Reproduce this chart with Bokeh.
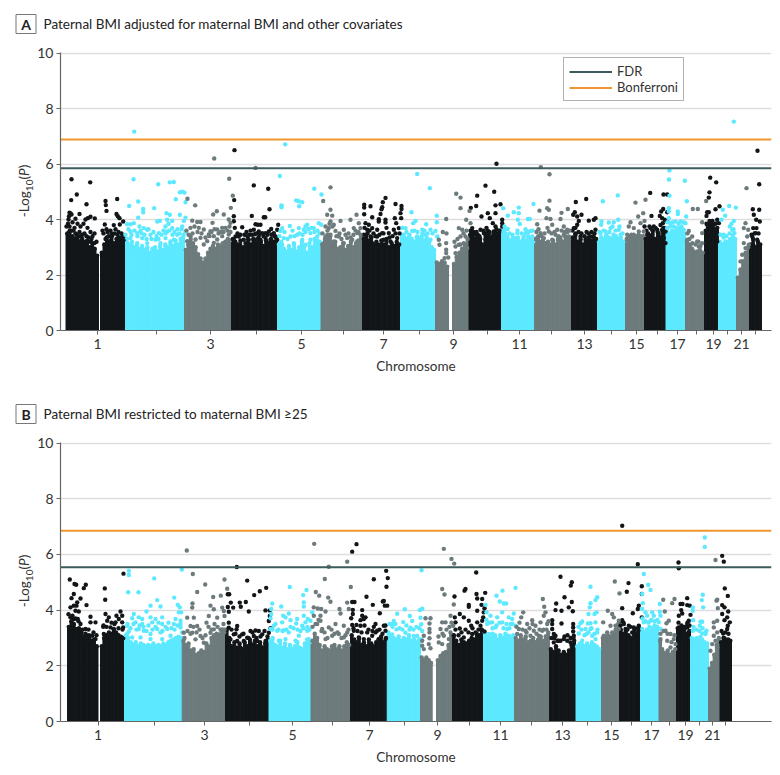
from bokeh.plotting import figure
from bokeh.layouts import column, row
from bokeh.core.properties import value
from bokeh.models import Range1d, FixedTicker, Legend, LegendItem, Div
from bokeh.embed import file_html
from bokeh.resources import INLINE

FONT = "Lato"
BLACK, CYAN, GREY = "#121618", "#5CE9FF", "#6D7B7D"
FDR_COLOR, BONF_COLOR = "#3E5B5B", "#F0962F"
GROUP_COLORS = [BLACK, CYAN, GREY]

# tick positions along the genome axis and their labels
tick_labels = ["1", "", "3", "", "5", "", "7", "", "9", "", "11", "", "13", "", "15", "", "17", "", "19", "", "21", ""]
A_ticks = [97, 156, 210, 256, 301, 343, 383, 419, 453, 487, 519, 551, 584, 611, 636, 657, 677, 696, 713, 727, 741, 755]
B_ticks = [97.5, 154, 204, 249, 292, 332, 369, 404, 437, 469, 500, 531, 562, 587, 611, 631, 651, 669, 685, 699, 712, 725]

A_FDR, A_BONF = 5.85, 6.88
B_FDR, B_BONF = 5.54, 6.85

# chromosome blocks: extent, colour group, near-solid top profile
A_left = [65.5, 100, 125, 184, 231, 277, 320.5, 362, 400, 435, 452, 468.5, 501, 534, 571, 597, 625, 644, 665.5, 685, 704, 718, 736, 749]
A_right = [98, 125, 184, 231, 277, 320.5, 362, 400, 435, 448, 468.5, 501, 534, 571, 597, 624, 644, 665.5, 685, 703.5, 718, 736, 749, 761]
A_group = [0, 0, 1, 2, 0, 1, 2, 0, 1, 2, 2, 0, 1, 2, 0, 1, 2, 0, 1, 2, 0, 1, 2, 0]
A_tops = [
    [3.5,3.6,3.4,3.3,3.45,3.2,3.3,3.1,3.25,3.0,3.15,2.95,2.7],
    [2.8,3.1,3.35,3.2,3.4,3.15,3.3,3.35,3.2,3.3],
    [3.3,3.1,3.2,3.0,3.1,2.95,3.05,2.9,3.0,2.8,2.95,3.0,2.85,3.05,2.9,3.1,3.0,3.15,3.05,3.25,3.1,3.3,3.35],
    [2.9,3.1,3.3,3.15,3.0,2.75,2.6,2.45,2.6,2.8,2.95,3.05,2.95,3.1,3.0,3.15,3.2,3.3,3.25],
    [3.3,3.2,3.1,3.25,3.0,3.15,3.3,3.1,3.3,3.15,3.35,3.2,3.05,3.25,3.15,3.3,3.2,3.35],
    [3.1,3.2,2.95,2.85,3.05,2.9,3.1,2.85,3.0,3.2,3.05,2.8,3.15,3.0,3.3,3.25,3.2],
    [3.1,3.3,3.45,3.4,3.1,3.2,2.95,3.0,3.15,2.9,3.05,3.2,3.0,3.15,3.25,3.35],
    [3.3,3.45,3.25,3.35,3.1,3.2,3.05,3.25,3.1,3.3,3.0,3.15,3.05,3.2,3.1],
    [3.45,3.35,3.3,3.4,3.3,3.2,3.35,3.3,3.4,3.25,3.35,3.2,3.0,2.9],
    [2.45,2.4,2.5,2.45,2.3],
    [2.4,2.65,2.8,2.95,3.1,3.3],
    [3.45,3.55,3.3,3.45,3.3,3.1,3.5,3.6,3.35,3.4,3.55,3.45,3.6],
    [3.6,3.5,3.3,3.25,3.35,3.2,3.35,3.2,3.3,3.25,3.4,3.3,3.2],
    [3.3,3.4,3.2,3.3,3.15,3.2,3.1,3.25,3.1,3.3,3.35,3.2,3.4,3.3,3.35],
    [3.35,3.5,3.2,3.3,3.1,3.2,3.35,3.25,3.4,3.3],
    [3.2,3.35,3.3,3.4,3.35,3.3,3.45,3.4,3.3,3.35,3.2],
    [3.3,3.4,3.45,3.45,3.4,3.45,3.4,3.4],
    [3.3,3.5,3.4,3.6,3.3,3.55,3.35,3.6,3.7],
    [3.7,3.5,3.6,3.55,3.7,3.6,3.65,3.5],
    [3.2,3.1,2.95,2.8,2.85,2.9,2.8],
    [3.6,3.7,3.75,3.7,3.65,3.7],
    [3.2,3.1,3.15,3.2,3.3,3.45,3.3],
    [1.9,2.2,2.5,2.8,3.0],
    [3.1,3.3,3.0,3.2,3.1],
]

B_left = [67, 100, 124, 181.7, 225, 268.5, 310.5, 350, 386.7, 420, 436, 452, 483, 514, 549, 575.5, 601, 619, 640, 658.5, 676, 690, 708, 719.5]
B_right = [97.5, 124, 181.7, 225, 268.5, 310.5, 350, 386.7, 420, 431.7, 452, 482.5, 514, 549, 575, 600, 619, 639.5, 658, 676, 690, 708, 719.5, 731]
B_group = [0, 0, 1, 2, 0, 1, 2, 0, 1, 2, 2, 0, 1, 2, 0, 1, 2, 0, 1, 2, 0, 1, 2, 0]
B_tops = [
    [3.4,3.6,3.5,3.3,3.35,3.2,3.05,2.95,3.1,2.9,2.95,2.7],
    [2.7,3.0,3.1,3.2,3.15,3.3,3.2,3.1,3.05,3.0],
    [3.1,3.0,2.85,2.75,2.85,2.7,2.8,2.75,2.7,2.75,2.7,2.8,2.7,2.75,2.7,2.8,2.75,2.85,2.9,2.95,3.0,3.05,3.0],
    [2.9,2.75,2.8,2.55,2.6,2.4,2.45,2.55,2.5,2.8,2.7,3.0,3.1,3.15,3.1,3.25,3.2],
    [3.3,3.0,2.7,2.85,2.65,2.8,2.6,2.85,2.7,2.95,2.75,2.9,2.7,2.85,2.65,2.8,2.95],
    [2.9,3.0,2.75,2.7,2.9,2.65,2.8,2.6,2.75,2.6,2.7,2.85,2.65,2.6,2.8,2.95,2.85],
    [2.9,3.15,3.0,2.75,2.55,2.7,2.6,2.55,2.7,2.75,2.6,2.7,2.55,2.7,2.85,2.75],
    [3.1,2.95,2.85,3.0,2.75,2.85,2.7,2.95,2.8,2.7,2.85,2.95,3.05,2.85,3.0],
    [3.2,3.1,3.0,2.95,3.05,2.9,3.0,2.95,3.1,2.9,2.95,2.85,2.95],
    [2.3,2.2,2.3,2.2,2.1],
    [2.2,2.35,2.45,2.5,2.75,3.1],
    [3.1,2.9,2.75,2.95,2.85,2.8,2.9,3.0,2.95,3.15,3.1,3.3],
    [3.2,3.05,3.0,3.15,3.1,2.95,3.1,3.0,3.15,2.95,3.0,3.1],
    [3.0,2.9,3.1,2.95,3.05,2.85,2.9,3.0,2.85,2.95,3.05,2.9,3.05,3.2],
    [2.6,2.5,2.7,2.55,2.4,2.5,2.4,2.55,2.75,2.9],
    [2.7,2.8,2.75,2.7,2.8,2.7,2.85,2.75,2.7,2.6],
    [3.0,3.05,3.1,3.05,3.15,3.3,3.5],
    [3.3,3.15,3.25,3.1,3.0,3.2,3.15,3.3],
    [3.3,3.2,3.3,3.4,3.35,3.45,3.4],
    [2.9,2.5,2.45,2.55,2.4,2.5,2.6],
    [3.35,3.3,3.2,3.35,3.15,3.25],
    [3.0,2.95,3.0,2.9,2.95,2.85,2.8],
    [1.9,2.1,2.4,2.75,3.0],
    [2.85,3.0,2.9,2.95,2.9],
]

# individually readable points (genome position, -log10 P), panel A
A_black = [(71,5.45),(89.7,5.34),(76.3,4.9),(70.7,4.7),(86,4.55),(69,4.25),(70,4.22),(68.5,4.12),(71,4.18),(79,4.2),(75,4.03),(87.3,4.05),(90,4.1),(94.3,4.04),(85,4.0),(68,4.0),(67.5,3.85),(69,3.75),(72,3.9),(74,3.7),(77,3.85),(80,3.75),(83,3.85),(87,3.7),(71,3.6),(75,3.5),(79,3.55),(82,3.45),(86,3.4),(90,3.55),(94,3.5),(68,3.5),(72,3.35),(77,3.3),(81,3.25),(85,3.2),(90,3.2),(94,3.15),(70,3.2),(74,3.2),(91,3.3),
 (105,4.67),(105.3,4.52),(106,4.31),(116.7,4.74),(116,4.2),(117.3,4.12),(119,4.05),(122.7,3.93),(104.3,3.82),(113.3,3.8),(119.3,3.82),(106,3.65),(110,3.6),(115,3.65),(118,3.55),(103,3.5),(108,3.4),(112,3.45),(121,3.5),(105,3.3),(116,3.3),(120,3.3),(123,3.25),(110,3.25),
 (234,6.5),(233.7,4.7),(233.3,4.12),(233.3,3.94),(234.3,3.7),(253.3,5.23),(267.7,5.11),(269,4.37),(251.3,4.13),(263.3,4.08),(264.7,4.08),(277.7,3.81),(241.7,3.72),(255,3.83),(257.3,3.81),(260,3.81),(270.7,3.66),(276.7,3.63),(246,3.55),(250,3.6),(253.3,3.63),(249.3,3.45),(254.3,3.47),(258.3,3.57),(261.7,3.51),(265,3.51),(268.3,3.57),(273.3,3.51),(275,3.39),(276.7,3.27),(238.3,3.39),(243.3,3.27),(235,3.39),(233.3,3.27),(248.3,3.27),(260,3.27),(270,3.27),(255,3.27),(265,3.33),
 (385,4.78),(382.3,4.62),(381.7,4.44),(380,4.2),(381,4.37),(395,4.56),(401,4.49),(401,4.38),(363.7,4.53),(363.7,4.43),(370,4.48),(363.7,4.19),(378.3,4.01),(378.3,3.93),(371.7,4.08),(385,3.99),(385,3.89),(394.3,4.05),(400,4.23),(400.7,4.05),(395.7,3.87),(365,3.87),(368.3,3.81),(371.7,3.69),(366.7,3.63),(376.7,3.63),(381.7,3.51),(388.3,3.51),(393.3,3.63),(398.3,3.69),(363.3,3.45),(370,3.39),(376.7,3.39),(383.3,3.27),(390,3.21),(396.7,3.33),(365,3.15),(371.7,3.15),(378.3,3.09),(393.3,3.03),
 (496,6.01),(485,5.22),(493.7,5.0),(476.7,4.86),(470.3,4.42),(475.7,4.49),(495,4.51),(500,4.55),(487.3,4.23),(481,4.11),(495,4.23),(489.3,4.05),(492.3,3.87),(495,3.75),(501.7,3.99),(501.7,3.87),(501.7,3.75),(471.7,3.69),(470.7,3.51),(480,3.63),(475,3.45),(483.3,3.51),(488.3,3.45),(493.3,3.57),(498.3,3.51),(478.3,3.33),(485,3.27),(491.7,3.27),(498.3,3.27),
 (575.3,4.63),(585.7,4.74),(574.3,4.26),(581,4.17),(572.7,4.17),(576.7,4.11),(588.3,3.96),(593.3,3.99),(595,4.05),(578.3,3.95),(576.7,3.81),(573.3,3.69),(595,3.63),(586,3.55),(575,3.45),(580,3.39),(590,3.39),(595,3.27),(585,3.27),(573.3,3.27),(578.3,3.15),(590,3.15),
 (649.7,4.96),(663,4.9),(666.7,4.9),(662.7,4.38),(660.7,4.29),(666.7,4.26),(651,4.13),(659.3,4.13),(661.7,4.05),(664.3,3.99),(662.3,3.87),(666.7,3.93),(644,3.75),(650,3.69),(653.3,3.75),(656.7,3.63),(661.7,3.63),(665,3.57),(646.7,3.45),(651.7,3.45),(658.3,3.39),(663.3,3.33),(646,3.27),(653.3,3.21),(660,3.15),(665,3.15),
 (709.7,5.51),(715.7,5.34),(709,4.98),(708.3,4.79),(706.7,4.26),(708.3,4.26),(706,4.13),(719,4.48),(715,4.37),(710,3.87),(706.7,3.81),(713.3,3.81),(716.7,3.99),(718.3,3.87),(711.7,3.63),(715,3.63),(706.7,3.51),(716.7,3.51),(710,3.39),(713.3,3.33),(708.3,3.15),(716.7,3.21),
 (757,6.48),(758.7,5.27),(752.3,4.37),(758.7,4.35),(753.3,4.17),(755.7,3.99),(759.3,3.93),(752.7,3.69),(756,3.69),(755,3.51),(751.7,3.39),(756.7,3.27),(752.7,3.09)]
A_black_more = [(66,3.75),(69,3.55),(73,3.6),(76,3.45),(80,3.4),(84,3.5),(88,3.35),(92,3.4),(96,3.2),(102,3.6),(107,3.55),(111,3.5),(114,3.5),(117,3.45),(122,3.4),
 (237,3.5),(240,3.45),(244,3.45),(247,3.4),(252,3.45),(256,3.5),(259,3.45),(263,3.4),(267,3.45),(271,3.45),(274,3.4),
 (364,3.7),(367,3.5),(369,3.6),(373,3.5),(375,3.4),(379,3.45),(383,3.5),(386,3.7),(389,3.35),(392,3.4),(395,3.5),(399,3.5),
 (470,3.6),(473,3.55),(476,3.55),(479,3.4),(483,3.6),(486,3.7),(489,3.55),(493,3.5),(496,3.65),(499,3.6),
 (572,3.6),(575,3.7),(578,3.55),(581,3.5),(584,3.4),(588,3.5),(591,3.55),(594,3.5),
 (646,3.6),(649,3.75),(652,3.6),(655,3.7),(658,3.5),(660,3.8),(663,3.7),(706,3.85),(709,3.95),(712,3.95),(715,3.85),(751,3.45),(754,3.5),(758,3.5)]

A_cyan = [(133.7,7.17),(133,5.45),(157.7,5.27),(169.3,5.34),(173.3,5.35),(181.7,5.0),(184,4.97),(179.3,4.98),(175.3,4.73),(185,4.62),(128.7,4.49),(137.7,4.65),(142.7,4.38),(142.7,4.26),(153.7,4.41),(137.7,4.07),(166,4.23),(169.3,4.17),(179.3,4.17),(185,4.07),(166.7,3.99),(156.7,3.93),(159.3,3.95),(171.7,3.95),(183.3,3.95),(130,3.83),(126.7,3.83),(133.3,3.87),(165,3.75),(171.7,3.69),(143.3,3.69),(146.7,3.63),(140,3.59),(130,3.57),(125,3.45),(136.7,3.51),(150,3.45),(158.3,3.51),(166.7,3.57),(181.7,3.75),(185,3.57),(176.7,3.45),(130,3.33),(141.7,3.33),(155,3.27),(165,3.33),(173.3,3.27),(181.7,3.33),(136.7,3.15),(146.7,3.15),(160,3.15),(170,3.21),(126.7,3.15),(180,3.03),
 (279.3,5.57),(284.7,6.71),(313.7,5.11),(321,4.9),(295.7,4.69),(298.3,4.66),(301.7,4.62),(298.7,4.48),(281,4.51),(281,4.44),(289.3,3.77),(281.7,3.69),(280,3.59),(298.3,3.69),(303.3,3.63),(306.7,3.81),(305,3.75),(318.3,3.87),(320.7,3.81),(313.3,3.69),(310,3.51),(296.7,3.45),(290,3.39),(283.3,3.33),(301.7,3.27),(310,3.27),(316.7,3.39),(293.3,3.15),(305,3.09),(281.7,3.09),(316.7,3.09),
 (416.7,5.64),(429.3,5.13),(411,4.26),(436.3,4.14),(415,3.95),(412.7,3.87),(425.7,3.83),(436.3,3.9),(405,3.69),(411.7,3.59),(421.7,3.63),(430,3.63),(435,3.59),(436.7,3.39),(403.3,3.45),(425,3.45),(416.7,3.39),(408.3,3.33),(430,3.27),(420,3.21),(413.3,3.15),(404,3.21),
 (502.7,4.41),(518.3,4.43),(533,4.56),(507.3,4.14),(513.3,4.26),(518.3,4.23),(517.3,3.99),(519.3,3.84),(527.3,4.02),(529.3,4.02),(505,3.66),(507.3,3.66),(503.3,3.57),(525,3.51),(530,3.59),(516.7,3.51),(506.7,3.39),(515,3.33),(523.3,3.39),(531.7,3.39),(510,3.15),(520,3.15),(528.3,3.15),
 (602.3,4.66),(617.3,4.87),(601,3.93),(600.7,3.81),(608.3,3.89),(613.3,3.9),(617.7,3.99),(600,3.49),(605,3.57),(610,3.69),(618.3,3.63),(620,3.45),(603.3,3.27),(611.7,3.33),(620,3.27),
 (669,5.77),(668.5,5.44),(684.3,5.4),(669,4.86),(686.3,4.66),(668.3,4.41),(668.3,4.29),(677.3,4.29),(677.3,4.2),(685.7,4.11),(668.3,4.05),(675,3.93),(680,3.93),(670,3.87),(685,3.87),(673.3,3.75),(678.3,3.69),(666.7,3.69),(683.3,3.63),(673.3,3.51),(681.7,3.45),(668.3,3.45),
 (733.3,7.53),(728.7,4.49),(735.3,4.43),(722.3,4.35),(724.7,4.14),(721,3.99),(733.3,3.95),(729.3,3.75),(731.7,3.63),(734,3.51),(723.3,3.45),(733.3,3.33),(725,3.21),(730,3.21)]
A_cyan_more = [(128,3.65),(131,3.45),(134,3.6),(137,3.4),(139,3.75),(141,3.5),(144,3.45),(146,3.3),(148,3.65),(151,3.3),(153,3.55),(156,3.4),(158,3.3),(161,3.45),(163,3.6),(165,3.5),(168,3.85),(169,3.6),(172,3.45),(174,3.55),(177,3.65),(179,3.5),(181,3.65),(183,3.45),
 (279,3.4),(284,3.55),(287,3.3),(292,3.6),(294,3.4),(299,3.5),(302,3.45),(305,3.55),(308,3.65),(311,3.7),(314,3.55),(317,3.6),(319,3.5),
 (402,3.7),(406,3.55),(409,3.45),(414,3.6),(417,3.55),(422,3.5),(424,3.6),(427,3.5),(432,3.5),
 (504,3.75),(509,3.5),(512,3.45),(517,3.6),(521,3.5),(525,3.65),(528,3.55),(532,3.6),
 (599,3.55),(603,3.6),(606,3.45),(609,3.55),(612,3.75),(615,3.6),(619,3.75),(622,3.5),
 (667,3.9),(670,3.75),(672,3.9),(675,3.7),(678,3.85),(681,3.75),(683,3.9),(720,3.45),(723,3.35),(726,3.4),(729,3.5),(731,3.85),(733,3.65)]

A_grey = [(213.7,6.2),(228.7,5.47),(232.3,4.86),(255,5.86),(230.3,4.42),(216.3,4.3),(194.7,4.51),(187,4.75),(223.3,4.18),(212.7,4.18),(191.7,3.96),(200,3.91),(196.7,3.91),(228.3,4.0),(230,3.88),(212,3.88),(190,3.7),(198.3,3.7),(210,3.58),(221.7,3.7),(216.7,3.64),(203.3,3.64),(208.3,3.46),(228.3,3.46),(190,3.4),(200,3.34),(213.3,3.4),(221.7,3.4),(186.7,3.22),(195,3.28),(206.7,3.22),(216.7,3.28),(226.7,3.22),(203.3,3.1),(213.3,3.16),(221.7,3.1),
 (330,5.16),(322.7,4.67),(330,4.35),(326.7,4.17),(331.7,4.14),(340,3.95),(356,4.17),(350,3.99),(358.3,3.87),(330,3.93),(333.3,3.81),(328.3,3.69),(335,3.59),(343.3,3.63),(353.3,3.69),(360,3.69),(330,3.45),(325,3.39),(338.3,3.39),(346.7,3.33),(356.7,3.51),(351.7,3.27),(323.3,3.15),(333.3,3.21),(343.3,3.15),(356.7,3.21),
 (455.7,4.93),(460,4.79),(460,4.41),(445.7,4.02),(469,4.31),(465.7,3.99),(470,3.87),(442.3,3.55),(439,3.09),(445.7,3.15),(446,3.5),(445.7,2.91),(445.7,2.79),(447.7,2.63),(438.3,3.27),(444,2.61),(458.3,3.69),(461.7,3.63),(460,3.39),(465,3.39),(455,3.03),(458.3,3.09),(463.3,3.15),(466.7,2.97),(455,2.79),(461.7,2.91),
 (549,5.63),(540.3,5.89),(549,4.68),(539,4.32),(546.7,4.41),(548.3,4.35),(561,4.24),(567.3,4.38),(546,4.05),(550,4.02),(560,4.02),(536.7,3.83),(551.7,3.81),(556.7,3.63),(563.3,3.75),(566.7,3.63),(540,3.51),(548.3,3.57),(555,3.45),(563.3,3.45),(543.3,3.33),(536.7,3.33),(551.7,3.27),(560,3.27),(568.3,3.39),
 (635,4.61),(645,4.71),(637.7,4.11),(642.7,4.23),(630,3.9),(640,3.87),(644,3.95),(628.3,3.75),(633.3,3.69),(626.7,3.45),(638.3,3.57),(643.3,3.57),(631.7,3.39),
 (692.3,4.38),(697.3,4.38),(705.7,4.67),(701.7,3.9),(688.3,3.59),(686.7,3.27),(701.7,3.51),(691.7,3.39),(696.7,3.21),(690,3.09),(701.7,3.15),(698.3,3.03),(686.7,2.91),(693.3,2.85),
 (746,5.13),(745,3.87),(743.3,3.69),(747.7,3.63),(746.7,3.39),(743.3,3.15),(745,2.97),(741.7,2.73),(748.3,3.09),(740,2.49)]
A_grey_more = [(186,3.6),(188,3.45),(192,3.5),(194,3.75),(197,3.55),(201,3.5),(205,3.35),(209,3.4),(211,3.55),(214,3.65),(218,3.5),(220,3.55),(223,3.55),(225,3.7),(227,3.6),(230,3.55),(229,3.75),
 (322,3.5),(325,3.75),(327,3.6),(329,3.85),(332,3.75),(336,3.4),(339,3.5),(341,3.3),(345,3.45),(348,3.5),(350,3.35),(353,3.45),(355,3.6),(358,3.55),(360,3.45),
 (536,3.55),(538,3.65),(541,3.4),(544,3.5),(547,3.7),(551,3.5),(554,3.55),(558,3.4),(561,3.6),(564,3.55),(567,3.55),(569,3.6),
 (454,3.2),(457,3.3),(460,3.1),(463,3.5),(466,3.6),(687,3.5),(689,3.3),(692,3.15),(695,3.1),(698,3.2),(700,3.05)]

# panel B
B_black = [(69.3,5.1),(74,4.94),(75.7,4.91),(85.3,4.91),(83.3,4.79),(73.3,4.58),(80,4.42),(71,4.43),(86,4.18),(76.7,4.28),(76,4.16),(73.3,4.16),(70,4.1),(75,3.98),(78.3,3.95),(70,3.74),(73.3,3.68),(77.3,3.68),(90,3.76),(95,3.56),(90,3.56),(71.7,3.5),(80,3.5),(75,3.32),(70,3.32),(85,3.32),(80,3.2),(91.7,3.08),(71.7,3.14),(86.7,3.08),(95,2.96),(76.7,3.02),(83.3,2.96),(90,2.9),
 (104.3,4.78),(104.7,4.37),(123,5.31),(120,3.95),(105,3.86),(108.3,3.74),(116,3.8),(121.7,3.8),(106.7,3.62),(115,3.56),(118.3,3.68),(121.7,3.56),(102.7,3.4),(110,3.38),(122.7,3.38),(113.3,3.32),(103.3,3.14),(108.3,3.08),(116.7,3.08),(121.7,2.96),
 (236.3,5.55),(246.7,5.06),(253.7,4.54),(259.3,4.68),(265.7,4.8),(227.3,4.57),(228.7,4.57),(230.3,4.27),(239.3,4.27),(245.3,4.29),(240.3,4.12),(227.3,4.11),(232.7,4.09),(248.3,3.95),(265,3.99),(269.3,3.99),(228.3,3.94),(269.3,3.79),(268.3,3.61),(228.3,3.55),(228.3,3.37),(236.7,3.43),(236,3.31),(250,3.25),(255,3.27),(258.3,3.25),(270,3.35),(268.3,3.19),(233.3,3.13),(241.7,3.13),(246.7,3.01),(253.3,3.07),(261.7,3.13),(230,2.95),(236.7,2.89),(243.3,2.89),(256.7,2.89),(265,2.89),(250,2.83),(230,2.71),(240,2.65),(260,2.71),
 (356,6.37),(351.7,6.1),(385.7,5.41),(387.3,5.15),(386,4.84),(373.3,5.11),(366,4.48),(382.3,4.31),(372.3,4.19),(383.3,4.33),(384.3,4.16),(386.7,4.16),(351.7,4.29),(354,4.29),(352.3,4.01),(361.7,4),(379.3,3.89),(352.3,3.86),(350.7,3.71),(361.7,3.8),(365,3.74),(360,3.64),(363.3,3.68),(356,3.47),(351.7,3.47),(360,3.44),(375,3.5),(373.3,3.4),(353.3,3.26),(366.7,3.2),(376.7,3.26),(383.3,3.44),(385,3.26),(371.7,3.08),(358.3,3.02),(363.3,2.96),(378.3,2.96),(385,2.96),
 (475.7,5.35),(465,4.76),(464,4.7),(454,4.49),(476,4.58),(476.7,4.42),(484.7,4.62),(481.7,4.4),(481,4.19),(468.3,4.19),(468.3,4.12),(476.7,3.98),(484,4.07),(483.3,3.92),(459.3,3.86),(482.7,3.74),(454.3,3.74),(463.3,3.74),(468.3,3.62),(455,3.56),(481.7,3.62),(476.7,3.56),(470.7,3.44),(459.3,3.34),(480,3.44),(484,3.23),(471.7,3.14),(453.3,3.08),(463.3,3.02),(480,3.08),(471.7,2.96),
 (560,5.2),(571.3,5.0),(570.3,4.88),(564,4.46),(555.7,4.24),(571.3,4.29),(555,4.0),(561,3.98),(568.3,4.1),(572.3,3.96),(561,3.52),(551.7,3.64),(551.7,3.5),(572.7,3.5),(572.7,3.38),(551.7,3.32),(572.7,3.23),(553.3,3.14),(555,3.08),(563.3,2.96),(566.7,2.9),(573.3,3.08),(558.3,2.9),(570,2.84),(553.3,2.84),
 (621.7,7.03),(628,4.97),(626.3,4.66),(637.3,5.65),(641.3,4.86),(641.3,4.58),(621.7,4.07),(632.3,3.89),(638.3,4.16),(637.3,4.04),(641.3,3.74),(621.7,3.64),(638.3,3.44),(633.3,3.38),(628.3,3.44),(623.3,3.5),(640,3.32),(625,3.32),(636.7,3.2),(631.7,3.2),(620,3.44),
 (678,5.71),(678.3,5.5),(686.7,4.43),(682,4.22),(680,4.22),(686.7,4.18),(689.3,4.16),(680.7,4),(681.7,3.88),(690,3.83),(678.3,3.8),(688.3,3.62),(686.7,3.5),(678.3,3.38),(681.7,3.32),(686.7,3.38),(678.3,3.26),(681.7,3.2),(685,3.14),(688.3,3.2),
 (721.7,5.95),(723.3,5.74),(724.3,4.78),(727.3,4.51),(721.7,4.18),(724,4.1),(727.7,3.95),(721.7,3.86),(726.7,3.74),(724,3.64),(729.3,3.56),(727.3,3.44),(726.7,3.32),(722.7,3.16),(724,2.99)]
B_black_more = [(68,3.85),(72,3.8),(75,3.7),(78,3.6),(82,3.3),(85,3.15),(88,3.3),(93,3.2),(96,3.1),(103,3.45),(106,3.4),(111,3.55),(114,3.5),(118,3.35),(122,3.3),
 (231,3.3),(235,3.15),(239,3.05),(243,3.15),(248,3.0),(252,3.2),(256,3.0),(260,3.05),(264,3.25),(267,3.05),
 (353,3.35),(357,3.25),(361,3.2),(364,3.45),(368,3.3),(372,3.25),(375,3.2),(379,3.3),(382,3.15),(385,3.45),
 (455,3.3),(458,3.1),(461,3.2),(465,3.3),(468,3.2),(472,3.35),(475,3.2),(478,3.3),(481,3.3),
 (551,3.0),(554,3.0),(557,2.9),(560,2.9),(564,3.05),(567,3.1),(570,3.0),(573,3.0),
 (620,3.6),(623,3.55),(627,3.3),(630,3.4),(634,3.3),(637,3.35),(678,3.55),(681,3.45),(684,3.4),(687,3.55),(689,3.45),(721,3.25),(725,3.2),(728,3.15)]

B_cyan = [(128.3,5.41),(128.3,5.26),(127.7,4.64),(138,4.64),(153.7,5.14),(181.3,5.46),(173.7,4.45),(150,4.16),(156.7,4.36),(160,4.13),(177.3,4.19),(179.3,4.1),(178.3,3.92),(180.7,3.92),(146,3.95),(133.3,3.86),(138.3,3.74),(141.7,3.68),(131.7,3.71),(150,3.74),(155,3.68),(161.7,3.74),(175,3.68),(180,3.62),(135,3.56),(141.7,3.5),(151.7,3.56),(161.7,3.5),(173.3,3.5),(180,3.38),(126.7,3.44),(128.3,3.23),(138.3,3.32),(143.3,3.26),(156.7,3.32),(166.7,3.32),(181.7,3.2),(131.7,3.02),(140,3.02),(150,3.14),(160,3.2),(170,3.08),(126.7,3.14),(150,2.96),(161.7,2.96),
 (289.3,4.83),(302.7,4.54),(306,4.72),(303.3,4.28),(303.3,4.13),(271.7,4.24),(280.7,4.13),(270.7,4.04),(270.7,3.86),(270,3.71),(282.7,3.8),(288.3,3.88),(285,3.74),(281.7,3.56),(290,3.64),(296.7,3.68),(295.7,3.52),(303.3,3.8),(307.3,3.68),(310,3.62),(305,3.56),(301.7,3.44),(311.7,3.92),(273.3,3.44),(283.3,3.28),(276.7,3.26),(288.3,3.2),(278.3,2.9),(298.3,3.08),(306.7,3.26),(270,3.32),(295,2.9),(308.3,2.96),(285,2.96),
 (421,5.43),(396.7,3.87),(404.3,4.03),(409.3,3.79),(421.7,4.05),(419.3,4.0),(393.3,3.61),(402.7,3.57),(411.7,3.61),(420,3.73),(420.7,3.49),(396,3.31),(405,3.19),(413.3,3.07),(421.7,3.25),(391.7,3.49),(391.7,3.13),(420.7,2.95),(410,3.37),(416.7,3.07),
 (485,4.19),(496,4.52),(502,4.7),(515,4.8),(499.3,4.31),(503.3,4.24),(505.7,4.24),(486,3.92),(490,3.8),(501.7,3.92),(508.3,3.74),(513.3,3.88),(511.7,3.68),(496.7,3.74),(491.7,3.56),(501.7,3.56),(510,3.5),(486.7,3.5),(495,3.38),(506.7,3.32),(515,3.44),(488.3,3.14),(500,3.08),(508.3,3.08),(495,2.96),
 (590,4.84),(596.7,4.46),(595,4.36),(590,4.25),(589.3,4.1),(596,3.92),(594,3.86),(588,3.86),(580,3.53),(581.7,3.59),(587.3,3.52),(590,3.53),(595,3.56),(585,3.32),(590,3.32),(578.3,3.16),(596.7,3.2),(586,3.14),(591.7,3.08),(581.7,2.9),(595,2.96),
 (643.3,5.3),(647.7,4.91),(650,4.72),(641.7,4.58),(642.3,4.25),(641.7,4.04),(659.3,4.22),(651.7,3.92),(645,3.92),(659.3,3.94),(646.7,3.8),(653.3,3.8),(660,3.8),(643.3,3.56),(650,3.62),(658.3,3.56),(641.7,3.32),(650,3.32),(660,3.32),
 (704.3,6.61),(704.3,6.27),(702.3,4.55),(701.3,4.36),(702.7,4.1),(692.3,4.1),(692.3,3.98),(692.7,3.64),(700,3.58),(701.7,3.58),(699.3,3.44),(706,3.26),(692.3,3.26),(701.7,3.16),(705,3.14),(700,3.04)]
B_cyan_more = [(127,3.5),(130,3.35),(133,3.5),(136,3.3),(139,3.45),(143,3.4),(146,3.25),(148,3.45),(152,3.3),(155,3.4),(158,3.55),(162,3.25),(165,3.4),(168,3.55),(171,3.35),(174,3.3),(177,3.45),(180,3.5),
 (272,3.3),(275,3.5),(278,3.3),(282,3.25),(286,3.3),(290,3.4),(293,3.35),(297,3.3),(300,3.25),(303,3.35),(307,3.4),(309,3.3),
 (389,3.5),(392,3.4),(395,3.5),(399,3.35),(402,3.3),(406,3.45),(409,3.3),(413,3.3),(416,3.4),(419,3.35),
 (486,3.65),(489,3.55),(492,3.35),(496,3.45),(499,3.55),(503,3.35),(506,3.5),(509,3.35),(512,3.5),
 (578,3.4),(581,3.3),(584,3.1),(588,3.2),(591,3.35),(594,3.15),(597,3.3),(642,3.7),(645,3.6),(648,3.55),(651,3.65),(654,3.6),(657,3.65),(693,3.4),(696,3.3),(699,3.25),(702,3.35),(705,3.2)]

B_grey = [(186.3,6.14),(313.7,6.38),(328.3,5.56),(346.7,5.74),(350.3,4.83),(324.3,5.12),(224,5.1),(192.3,5.3),(204.7,4.92),(226.7,4.77),(196.7,4.65),(212.7,4.47),(220.3,4.52),(315.3,4.65),(318.7,4.52),(327.7,4.45),(330,4.3),(346.7,4.27),(192,4.24),(191.7,4.09),(210,4.16),(213.3,4.03),(221.7,4.09),(223.3,3.97),(186.7,3.73),(193.3,3.73),(208.3,3.79),(216.7,3.73),(224,3.79),(190,3.43),(196.7,3.43),(206,3.55),(213.3,3.31),(221.7,3.31),(183.3,3.19),(191.7,3.19),(200,3.07),(210,3.19),(218.3,3.13),(195,2.95),(203.3,2.83),(216.7,2.95),
 (339,4.04),(348.3,4.04),(313.3,4.1),(317.3,4.06),(320.7,4.04),(325,3.95),(340,3.88),(320,3.8),(313.3,3.8),(320,3.62),(316.7,3.5),(328.3,3.38),(335,3.5),(343.3,3.44),(321.7,3.32),(338.3,3.14),(346.7,3.2),(331.7,3.08),(325,2.96),(343.3,3.02),
 (443.3,6.2),(451,5.84),(453.7,5.67),(441.7,4.76),(444,4.56),(453.3,4.2),(425,3.71),(430,3.71),(429,3.52),(429,3.32),(429,3.2),(429,2.99),(423.3,3.08),(421.7,2.9),(421.7,2.72),(428.3,2.78),(423.3,2.6),(430,2.63),(450,3.8),(441.7,3.56),(445,3.56),(440,3.32),(452.7,3.44),(443.3,3.08),(450,3.2),(438.3,2.84),(448.3,2.96),(441.7,2.78),
 (542.3,4.4),(543.7,4.12),(522.7,3.92),(545,3.92),(543.3,3.8),(520.7,3.74),(531.7,3.64),(540,3.56),(526.7,3.5),(535,3.44),(546.7,3.5),(518.3,3.32),(525,3.26),(533.3,3.26),(541.7,3.26),(516.7,3.14),(530,3.08),(538.3,3.08),(546.7,3.08),
 (614.3,5.03),(619,4.6),(602.7,3.56),(607.3,3.98),(611.7,3.86),(613.3,3.74),(618.3,3.62),(610,3.44),(615,3.44),(606.7,3.2),(611.7,3.2),(603.3,3.08),(618.3,3.32),
 (662.7,4.37),(671.7,4.25),(674,4.4),(664.3,3.95),(668.3,3.62),(666,3.53),(665,3.26),(670,3.14),(660,2.96),(673.3,2.96),(666.7,2.9),(675,2.78),(661.7,2.6),(670,2.66),
 (715,5.8),(716.7,4.37),(716,4.34),(717.3,4.07),(713.3,3.56),(716.7,3.62),(713.3,3.38),(716.7,3.2),(713.3,3.08),(711.7,2.78),(715,2.9),(710,2.54),(716.7,2.66)]
B_grey_more = [(184,3.0),(187,3.25),(190,3.15),(193,3.4),(196,3.2),(199,3.3),(202,3.0),(205,3.1),(208,3.4),(211,3.3),(214,3.5),(217,3.4),(220,3.3),(223,3.5),(224,3.3),
 (312,3.4),(315,3.5),(318,3.65),(321,3.25),(324,3.2),(327,3.0),(331,3.3),(334,3.15),(337,3.2),(341,3.0),(345,3.1),(348,3.3),
 (516,3.4),(519,3.55),(522,3.3),(526,3.2),(529,3.35),(532,3.5),(536,3.15),(539,3.3),(543,3.3),(546,3.3),(548,3.6),
 (438,3.05),(442,3.15),(446,3.3),(449,3.4),(451,3.55),(660,3.15),(663,3.25),(667,3.15),(671,2.85),(674,3.1)]

X_START, X_END = 60, 771
TEXT_SIZE = "13.5px"


def blank(width, height, y_range):
    p = figure(width=width, height=height, output_backend="svg", toolbar_location=None,
               x_range=Range1d(0, width), y_range=y_range, x_axis_location=None, y_axis_location=None,
               min_border=0, min_border_left=0, min_border_right=0, min_border_top=0, min_border_bottom=0)
    p.outline_line_color = None
    p.grid.visible = False
    return p


def header(height, box_top, letter, title):
    p = blank(772, height, Range1d(height, 0))
    p.quad(left=[15.5], right=[35.5], top=[box_top], bottom=[box_top + 19], fill_color="white",
           line_color="#777777", line_width=1)
    p.text([25.5], [box_top + 9.5], text=[letter], text_font=value(FONT), text_font_style="bold",
           text_font_size="14px", text_color="#222222", text_align="center", text_baseline="middle")
    p.text([43], [box_top + 9.5], text=[title], text_font=value(FONT), text_font_size=TEXT_SIZE,
           text_color="#222222", text_align="left", text_baseline="middle")
    return p


def strip(height, centre):
    html = ('<div style="position:absolute;left:24px;top:%dpx;transform:translate(-50%%,-50%%) rotate(-90deg);'
            'white-space:nowrap;font-family:Lato;font-size:13.5px;color:#333333;line-height:16px;">'
            '-Log<sub style="font-size:10px;line-height:0;">10</sub>(<i>P</i>)</div>' % centre)
    return Div(text=html, width=34, height=height, margin=0, disable_math=True)


def panel(height, border_bottom, ticks, left, right, group, tops, pts, fdr, bonf, legend):
    p = figure(width=738, height=height, output_backend="svg", toolbar_location=None,
               x_range=Range1d(X_START, X_END), y_range=Range1d(0, 10.02),
               min_border_left=26, min_border_right=1, min_border_top=14, min_border_bottom=border_bottom)
    p.outline_line_color = None
    p.background_fill_color = "white"
    p.xgrid.visible = False
    p.ygrid.grid_line_color = "#DDDDDD"
    p.ygrid.grid_line_width = 1.5
    p.ygrid.ticker = FixedTicker(ticks=[2, 4, 6, 8, 10])

    p.yaxis.ticker = FixedTicker(ticks=[0, 2, 4, 6, 8, 10])
    p.xaxis.ticker = FixedTicker(ticks=ticks)
    p.xaxis.major_label_overrides = {t: s for t, s in zip(ticks, tick_labels)}
    for ax in (p.xaxis[0], p.yaxis[0]):
        ax.axis_line_color = "#666666"
        ax.axis_line_width = 1.2
        ax.major_tick_line_color = "#666666"
        ax.major_tick_in = 0
        ax.major_tick_out = 4
        ax.minor_tick_line_color = None
        ax.major_label_text_font = FONT
        ax.major_label_text_font_size = "14px"
        ax.major_label_text_color = "#333333"
    p.xaxis[0].major_label_standoff = 4
    p.yaxis[0].major_label_standoff = 3
    p.xaxis[0].axis_label = "Chromosome"
    p.xaxis[0].axis_label_text_font = FONT
    p.xaxis[0].axis_label_text_font_style = "normal"
    p.xaxis[0].axis_label_text_font_size = TEXT_SIZE
    p.xaxis[0].axis_label_text_color = "#333333"
    p.xaxis[0].axis_label_standoff = 6

    # solid body of each chromosome, with a rounded dot on every column
    ql, qr, qt, qc, qx = [], [], [], [], []
    for l, r, g, ts in zip(left, right, group, tops):
        w = (r - l) / len(ts)
        for i, t in enumerate(ts):
            ql.append(l + i * w)
            qr.append(l + (i + 1) * w)
            qx.append(l + (i + 0.5) * w)
            qt.append(t)
            qc.append(GROUP_COLORS[g])
    p.quad(left=ql, right=qr, top=qt, bottom=0, fill_color=qc, line_color=qc, line_width=1)
    p.scatter(qx, qt, size=4.4, fill_color=qc, line_color=None)

    for g, data in enumerate(pts):
        xs = [d[0] for d in data]
        ys = [d[1] for d in data]
        p.scatter(xs, ys, size=4.4, fill_color=GROUP_COLORS[g], line_color=None)

    l1 = p.line([X_START, X_END], [fdr, fdr], line_color=FDR_COLOR, line_width=2)
    l2 = p.line([X_START, X_END], [bonf, bonf], line_color=BONF_COLOR, line_width=2)

    if legend:
        leg = Legend(items=[LegendItem(label="FDR", renderers=[l1]), LegendItem(label="Bonferroni", renderers=[l2])],
                     location=(503, 229), orientation="vertical",
                     border_line_color="#666666", border_line_width=1, background_fill_alpha=1,
                     glyph_width=43, glyph_height=13, label_height=13, label_standoff=5, spacing=0, padding=5, margin=0,
                     label_text_font=FONT, label_text_font_size="13px", label_text_color="#333333")
        p.add_layout(leg)
    return p


A_H, B_H = 350, 339
head_a = header(38, 14, "A", "Paternal BMI adjusted for maternal BMI and other covariates")
main_a = panel(A_H, 58, A_ticks, A_left, A_right, A_group, A_tops,
               [A_black + A_black_more, A_cyan + A_cyan_more, A_grey + A_grey_more], A_FDR, A_BONF, True)
head_b = header(40, 16, "B", "Paternal BMI restricted to maternal BMI \u226525")
main_b = panel(B_H, 46, B_ticks, B_left, B_right, B_group, B_tops,
               [B_black + B_black_more, B_cyan + B_cyan_more, B_grey + B_grey_more], B_FDR, B_BONF, False)

page = column(head_a, row(strip(A_H, 153), main_a, spacing=0),
              head_b, row(strip(B_H, 153), main_b, spacing=0), spacing=0)
open("out.html", "w").write(file_html(page, INLINE))
